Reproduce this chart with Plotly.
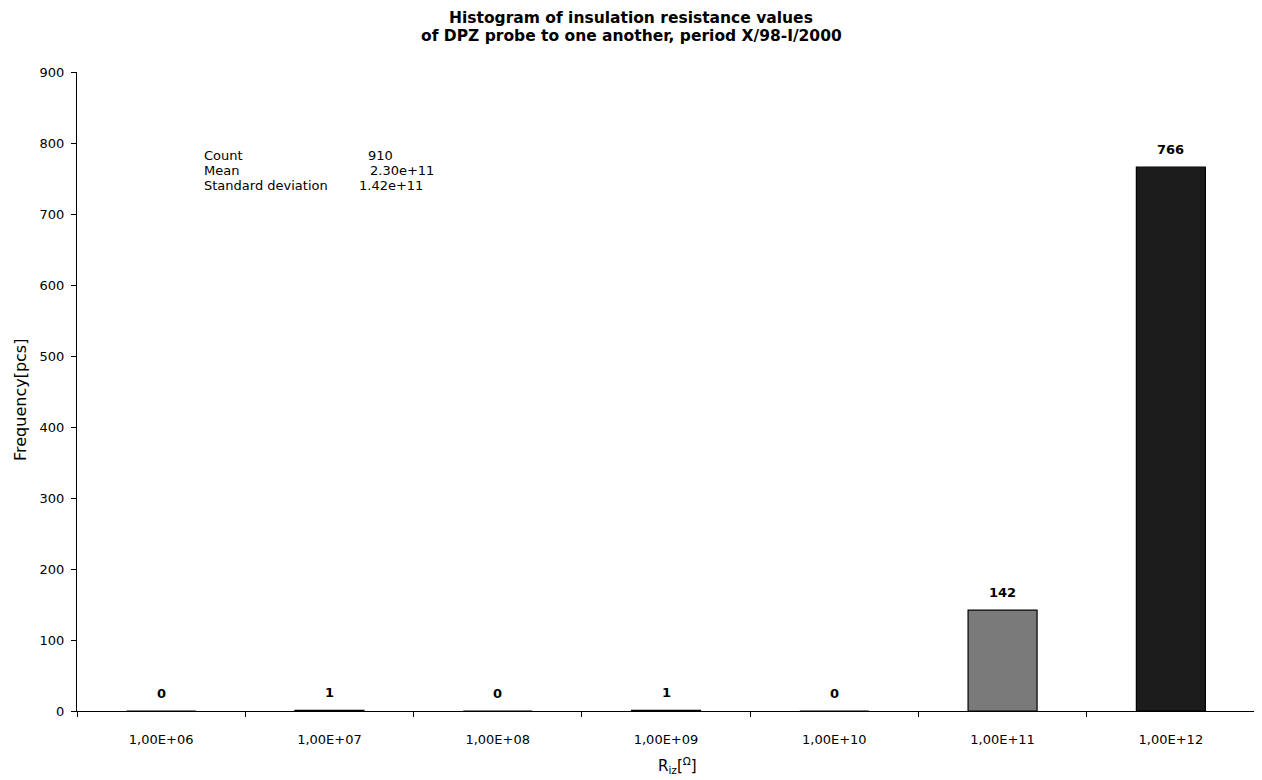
import plotly.graph_objects as go

categories = ["1,00E+06", "1,00E+07", "1,00E+08", "1,00E+09", "1,00E+10", "1,00E+11", "1,00E+12"]
frequency = [0, 1, 0, 1, 0, 142, 766]
bar_colors = ["#333333", "#1a1a1a", "#333333", "#1a1a1a", "#333333", "#7a7a7a", "#1c1c1c"]
y_ticks = [0, 100, 200, 300, 400, 500, 600, 700, 800, 900]
stats_labels = ["Count", "Mean", "Standard deviation"]
stats_values = ["910", "2.30e+11", "1.42e+11"]
title_lines = ["Histogram of insulation resistance values",
               "of DPZ probe to one another, period X/98-I/2000"]

FONT = "DejaVu Sans, Liberation Sans, Arial, sans-serif"

# the page body adds an 8px offset; work in screen pixels
OFF = 8
FIG_W, FIG_H = 1262 - OFF, 780 - OFF
# plot area in screen pixels
L, R, T, B = 77, 1255, 72, 711
W, H = R - L, B - T


def px(x):
    return (x - L) / W


def py(y):
    return (B - y) / H


fig = go.Figure()
fig.add_trace(go.Bar(
    x=categories, y=frequency,
    marker=dict(color=bar_colors, line=dict(color="black", width=1.2)),
    width=0.41,
    hoverinfo="x+y",
))

annotations = []
# value labels above each bar
for c, v in zip(categories, frequency):
    annotations.append(dict(x=c, y=v, xref="x", yref="y", text=f"<b>{v}</b>", showarrow=False,
                            yanchor="middle", yshift=18,
                            font=dict(family=FONT, size=13, color="black")))

# statistics box
stat_value_x = [366, 368, 357]
for i, (lab, val) in enumerate(zip(stats_labels, stats_values)):
    yy = py(155 + i * 15)
    annotations.append(dict(xref="paper", yref="paper", x=px(202), y=yy, text=lab, showarrow=False,
                            xanchor="left", yanchor="middle",
                            font=dict(family=FONT, size=13, color="black")))
    annotations.append(dict(xref="paper", yref="paper", x=px(stat_value_x[i]), y=yy, text=val,
                            showarrow=False, xanchor="left", yanchor="middle",
                            font=dict(family=FONT, size=13, color="black")))

# title (two lines)
for i, line in enumerate(title_lines):
    annotations.append(dict(xref="paper", yref="paper", x=px(631), y=py(18 + i * 18), text=f"<b>{line}</b>",
                            showarrow=False, xanchor="center", yanchor="middle",
                            font=dict(family=FONT, size=15.5, color="black")))

# axis titles
annotations.append(dict(xref="paper", yref="paper", x=px(20), y=py(400), text="Frequency[pcs]",
                        textangle=-90, showarrow=False, xanchor="center", yanchor="middle",
                        font=dict(family=FONT, size=16, color="black")))
annotations.append(dict(xref="paper", yref="paper", x=px(677), y=py(766), text="R<sub>iz</sub>[<sup>Ω</sup>]",
                        showarrow=False, xanchor="center", yanchor="middle",
                        font=dict(family=FONT, size=15, color="black")))

fig.update_layout(
    width=FIG_W, height=FIG_H,
    margin=dict(l=L - OFF, r=1262 - R, t=T - OFF, b=780 - B, autoexpand=False),
    paper_bgcolor="white", plot_bgcolor="white",
    showlegend=False,
    font=dict(family=FONT, size=13, color="black"),
    annotations=annotations,
    xaxis=dict(
        type="category", showline=True, linecolor="black", linewidth=1,
        ticks="outside", ticklen=5, tickcolor="black", tickson="boundaries",
        showgrid=False, zeroline=False, automargin=False, ticklabelstandoff=16,
        tickfont=dict(family=FONT, size=13, color="black"),
    ),
    yaxis=dict(
        range=[0, 900], tickvals=y_ticks, showline=True, linecolor="black", linewidth=1,
        ticks="outside", ticklen=5, tickcolor="black", showgrid=False, zeroline=False,
        automargin=False, ticklabelstandoff=4,
        tickfont=dict(family=FONT, size=13, color="black"),
    ),
    yaxis2=dict(
        range=[0, 900], tickvals=y_ticks, overlaying="y", side="left", showline=False,
        ticks="inside", ticklen=4, tickcolor="black", showticklabels=False, showgrid=False,
        zeroline=False, automargin=False,
    ),
)

fig.write_html("out.html")
